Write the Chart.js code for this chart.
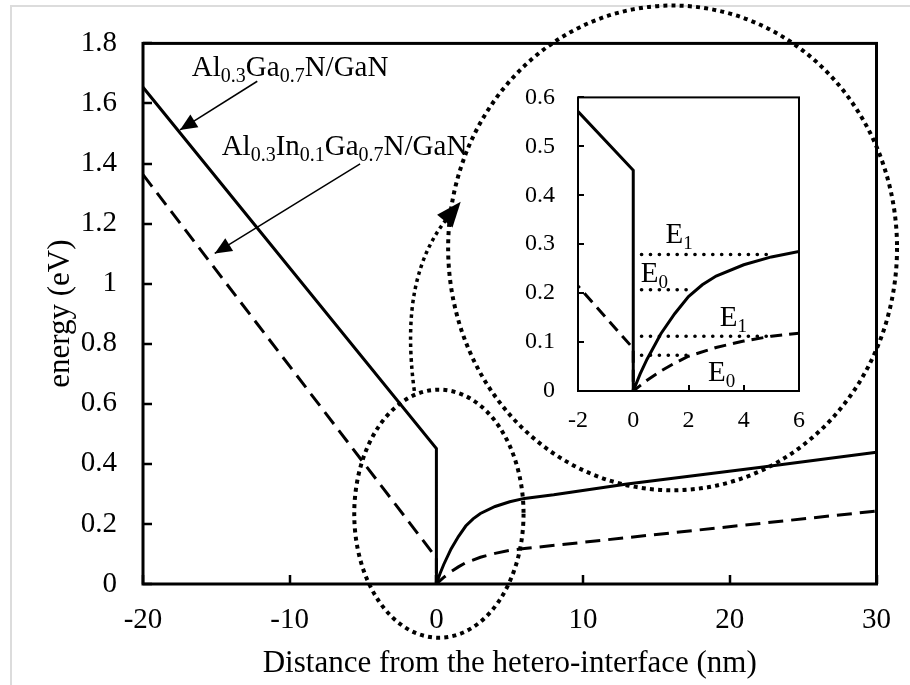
<!DOCTYPE html>
<html>
<head>
<meta charset="utf-8">
<title>Band diagram</title>
<script src="https://cdn.jsdelivr.net/npm/chart.js@4.4.1/dist/chart.umd.min.js"></script>
<style>
  html, body { margin: 0; padding: 0; background: #fff; }
  #wrap { position: relative; width: 910px; height: 685px; overflow: hidden; }
  #frame { position: absolute; left: 10px; top: 5px; width: 960px; height: 760px;
           border-left: 2px solid #dcdcdc; border-top: 2px solid #dcdcdc; }
  #mainChart { position: absolute; left: 0; top: 0; }
  #insetChart { position: absolute; left: 500px; top: 60px; }
</style>
</head>
<body>
<div id="wrap">
  <div id="frame"></div>
  <canvas id="mainChart" width="910" height="685"></canvas>
  <canvas id="insetChart" width="320" height="385"></canvas>
</div>
<script>
// conduction band edge, Al0.3Ga0.7N/GaN (solid)
const xAlGaN = [-20, 0, 0, 0.25, 0.5, 1, 1.5, 2, 2.5, 3, 4, 5, 6, 8, 13, 22, 30];
const yAlGaN = [1.654, 0.451, 0, 0.035, 0.065, 0.117, 0.158, 0.193, 0.217, 0.235, 0.258, 0.274, 0.285, 0.297, 0.333, 0.388, 0.439];

// conduction band edge, Al0.3In0.1Ga0.7N/GaN (dashed)
const xAlInGaN = [-20, 0, 0, 0.25, 0.5, 1, 1.5, 2, 3, 4, 5, 6, 30];
const yAlInGaN = [1.363, 0.087, 0, 0.011, 0.022, 0.041, 0.057, 0.071, 0.089, 0.102, 0.112, 0.118, 0.243];

// subband levels shown in the inset
const levelNames = [['E', '1'], ['E', '0'], ['E', '1'], ['E', '0']];
const levelEnergy = [0.279, 0.207, 0.112, 0.073];
const levelStart = [0.3, 0.3, 0.3, 0.3];
const levelEnd = [5.1, 2.2, 4.9, 2.1];

const mainXTicks = [-20, -10, 0, 10, 20, 30];
const mainYTicks = [0, 0.2, 0.4, 0.6, 0.8, 1, 1.2, 1.4, 1.6, 1.8];
const insetXTicks = [-2, 0, 2, 4, 6];
const insetYTicks = [0, 0.1, 0.2, 0.3, 0.4, 0.5, 0.6];

const xTitle = 'Distance from the hetero-interface (nm)';
const yTitle = 'energy (eV)';
const labelAlGaN = [['Al', 0], ['0.3', 1], ['Ga', 0], ['0.7', 1], ['N/GaN', 0]];
const labelAlInGaN = [['Al', 0], ['0.3', 1], ['In', 0], ['0.1', 1], ['Ga', 0], ['0.7', 1], ['N/GaN', 0]];

const SERIF = "'Liberation Serif', 'Times New Roman', serif";

const pts = (xs, ys) => xs.map((x, i) => ({ x, y: ys[i] }));

function richText(ctx, parts, x, y, size, subSize, drop) {
  let cx = x;
  parts.forEach(([t, sub]) => {
    ctx.font = `${sub ? subSize : size}px ${SERIF}`;
    ctx.fillText(t, cx, sub ? y + drop : y);
    cx += ctx.measureText(t).width;
  });
}

// frame + inward tick marks
const frameTicks = {
  id: 'frameTicks',
  afterDraw(chart, args, o) {
    const { ctx, chartArea: a, scales: { x, y } } = chart;
    ctx.save();
    ctx.strokeStyle = '#000';
    ctx.lineWidth = o.tickWidth;
    ctx.beginPath();
    o.xTicks.forEach(v => {
      const px = Math.round(x.getPixelForValue(v));
      ctx.moveTo(px, a.bottom);
      ctx.lineTo(px, a.bottom - o.tickLen);
    });
    o.yTicks.forEach(v => {
      const py = Math.round(y.getPixelForValue(v));
      ctx.moveTo(a.left, py);
      ctx.lineTo(a.left + o.tickLen, py);
    });
    ctx.stroke();
    ctx.lineWidth = o.frameWidth;
    ctx.strokeRect(a.left, a.top, a.right - a.left, a.bottom - a.top);
    ctx.restore();
  }
};

// annotation geometry, in data units of the main chart
const ellipseSmall = { cx: 0.17, cy: 0.234, rx: 5.77, ry: 0.413 };
const ellipseBig = { cx: 16.1, cy: 1.119, rx: 15.3, ry: 0.807 };
const zoomArrow = [[-1.505, 0.643], [-2.227, 0.908], [-1.417, 1.091], [0.877, 1.2265]];
const arrowAlGaN = { from: [-12.21, 1.674], to: [-17.48, 1.512] };
const arrowAlInGaN = { from: [-5.2, 1.399], to: [-15.11, 1.1005] };
const posAlGaN = [-16.67, 1.6906];
const posAlInGaN = [-14.64, 1.4287];

function arrowHead(ctx, tx, ty, dx, dy, len, half) {
  const d = Math.hypot(dx, dy);
  const ux = dx / d, uy = dy / d;
  const bx = tx - ux * len, by = ty - uy * len;
  ctx.beginPath();
  ctx.moveTo(tx, ty);
  ctx.lineTo(bx - uy * half, by + ux * half);
  ctx.lineTo(bx + uy * half, by - ux * half);
  ctx.closePath();
  ctx.fill();
}

const mainNotes = {
  id: 'mainNotes',
  afterDraw(chart) {
    const { ctx, scales: { x, y } } = chart;
    const P = (vx, vy) => [x.getPixelForValue(vx), y.getPixelForValue(vy)];
    ctx.save();
    ctx.strokeStyle = '#000';
    ctx.fillStyle = '#000';

    // dotted ellipses
    ctx.lineWidth = 4;
    ctx.setLineDash([4, 4.2]);
    [ellipseSmall, ellipseBig].forEach(e => {
      const [cx, cy] = P(e.cx, e.cy);
      const rx = Math.abs(x.getPixelForValue(e.cx + e.rx) - cx);
      const ry = Math.abs(y.getPixelForValue(e.cy + e.ry) - cy);
      ctx.beginPath();
      ctx.ellipse(cx, cy, rx, ry, 0, 0, Math.PI * 2);
      ctx.stroke();
    });

    // dotted curved arrow to the inset
    const c = zoomArrow.map(p => P(p[0], p[1]));
    ctx.lineWidth = 3.5;
    ctx.setLineDash([3.5, 3.8]);
    ctx.beginPath();
    ctx.moveTo(c[0][0], c[0][1]);
    ctx.bezierCurveTo(c[1][0], c[1][1], c[2][0], c[2][1], c[3][0], c[3][1]);
    ctx.stroke();
    ctx.setLineDash([]);
    const dx = c[3][0] - c[2][0], dy = c[3][1] - c[2][1];
    const dl = Math.hypot(dx, dy);
    arrowHead(ctx, c[3][0] + dx / dl * 18, c[3][1] + dy / dl * 18, dx, dy, 25, 10);

    // straight label arrows
    ctx.lineWidth = 1.5;
    [arrowAlGaN, arrowAlInGaN].forEach(a => {
      const [fx, fy] = P(a.from[0], a.from[1]);
      const [tx, ty] = P(a.to[0], a.to[1]);
      ctx.beginPath();
      ctx.moveTo(fx, fy);
      ctx.lineTo(tx, ty);
      ctx.stroke();
      arrowHead(ctx, tx, ty, tx - fx, ty - fy, 17, 7.5);
    });

    // labels
    ctx.textBaseline = 'alphabetic';
    ctx.textAlign = 'left';
    let [lx, ly] = P(posAlGaN[0], posAlGaN[1]);
    richText(ctx, labelAlGaN, lx, ly, 29, 20, 6);
    [lx, ly] = P(posAlInGaN[0], posAlInGaN[1]);
    richText(ctx, labelAlInGaN, lx, ly, 29, 20, 6);
    ctx.restore();
  }
};

// E-level label positions, in data units of the inset
const levelLabelPos = [[1.17, 0.302], [0.275, 0.2226], [3.13, 0.1322], [2.71, 0.0213]];

const insetNotes = {
  id: 'insetNotes',
  afterDraw(chart) {
    const { ctx, scales: { x, y } } = chart;
    ctx.save();
    ctx.fillStyle = '#000';
    ctx.textBaseline = 'alphabetic';
    ctx.textAlign = 'left';
    levelNames.forEach((n, i) => {
      const px = x.getPixelForValue(levelLabelPos[i][0]);
      const py = y.getPixelForValue(levelLabelPos[i][1]);
      richText(ctx, [[n[0], 0], [n[1], 1]], px, py, 29, 19, 6);
    });
    ctx.restore();
  }
};

function tickSetter(list) {
  return s => { s.ticks = list.map(v => ({ value: v })); };
}

function axis(min, max, list, fit, fontSize, pad, title, titlePad) {
  return {
    type: 'linear', min, max,
    afterBuildTicks: tickSetter(list),
    afterFit: fit,
    grid: { display: false, drawTicks: false },
    border: { display: false },
    ticks: { font: { family: SERIF, size: fontSize }, color: '#000', padding: pad, maxRotation: 0,
             callback: v => String(v) },
    title: title ? { display: true, text: title, color: '#000', font: { family: SERIF, size: 31 }, padding: titlePad }
                 : { display: false }
  };
}

const lineStyle = (dash) => ({
  showLine: true, borderColor: '#000', backgroundColor: '#000', borderWidth: 3,
  borderDash: dash, pointRadius: 0, tension: 0, fill: false
});

new Chart(document.getElementById('mainChart'), {
  type: 'scatter',
  data: {
    datasets: [
      Object.assign({ label: 'Al0.3Ga0.7N/GaN', data: pts(xAlGaN, yAlGaN) }, lineStyle([])),
      Object.assign({ label: 'Al0.3In0.1Ga0.7N/GaN', data: pts(xAlInGaN, yAlInGaN) }, lineStyle([15, 8]))
    ]
  },
  options: {
    responsive: false, animation: false, events: [],
    layout: { padding: { top: 41, right: 26, left: 0, bottom: 0 } },
    plugins: {
      legend: { display: false }, tooltip: { enabled: false },
      frameTicks: { xTicks: mainXTicks, yTicks: mainYTicks, tickLen: 9, tickWidth: 2.5, frameWidth: 3 }
    },
    scales: {
      x: axis(-20, 30, mainXTicks, s => { s.height = 101; }, 29, 19, xTitle, { top: 0, bottom: 3 }),
      y: axis(0, 1.8, mainYTicks, s => { s.width = 143; }, 29, 26, yTitle, { top: 42, bottom: 0 })
    }
  },
  plugins: [frameTicks, mainNotes]
});

const levelSets = levelEnergy.map((e, i) => Object.assign(
  { label: levelNames[i].join(''), data: [{ x: levelStart[i], y: e }, { x: levelEnd[i], y: e }] },
  lineStyle([0.1, 8.8]), { borderCapStyle: 'round', borderWidth: 3.6 }
));

new Chart(document.getElementById('insetChart'), {
  type: 'scatter',
  data: {
    datasets: [
      Object.assign({ label: 'AlGaN', data: pts(xAlGaN, yAlGaN) }, lineStyle([])),
      Object.assign({ label: 'AlInGaN', data: pts(xAlInGaN, yAlInGaN) }, lineStyle([12, 7]))
    ].concat(levelSets)
  },
  options: {
    responsive: false, animation: false, events: [],
    layout: { padding: { top: 21, right: 18, left: 0, bottom: 0 } },
    plugins: {
      legend: { display: false }, tooltip: { enabled: false },
      frameTicks: { xTicks: insetXTicks, yTicks: insetYTicks, tickLen: 6, tickWidth: 2, frameWidth: 2 }
    },
    scales: {
      x: axis(-2, 6, insetXTicks, s => { s.height = 54; }, 24, 15, null),
      y: axis(0, 0.6, insetYTicks, s => { s.width = 78; }, 24, 23, null)
    }
  },
  plugins: [frameTicks, insetNotes]
});
</script>
</body>
</html>
